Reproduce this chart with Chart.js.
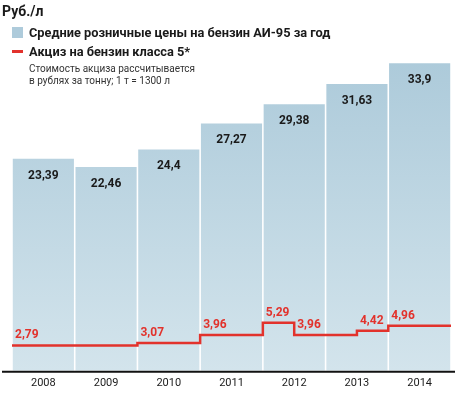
<!DOCTYPE html>
<html>
<head>
<meta charset="utf-8">
<script src="https://cdn.jsdelivr.net/npm/chart.js@4"></script>
<style>
  html, body { margin: 0; padding: 0; background: #fff; }
  #wrap { position: relative; width: 457px; height: 396px; font-family: Roboto, "Open Sans", sans-serif; color: #1a1a1a; }
  #wrap canvas { position: absolute; left: 0; top: 0; }
  .hd { position: absolute; white-space: nowrap; }
  #unit { left: 2px; top: 3px; font-weight: 700; font-size: 14px; }
  #leg1 { left: 12px; top: 25px; font-weight: 700; font-size: 12.8px; }
  #leg2 { left: 12px; top: 44px; font-weight: 700; font-size: 12.8px; }
  .sw1 { display: inline-block; width: 11px; height: 11px; background: #aecbdb; margin-right: 6px; vertical-align: -1px; }
  .sw2 { display: inline-block; width: 11px; height: 3px; background: #e2322c; margin-right: 6px; vertical-align: 3px; }
  #note { left: 29px; top: 63px; font-size: 10px; line-height: 12px; color: #333; }
</style>
</head>
<body>
<div id="wrap">
  <canvas id="chart" width="457" height="396"></canvas>
  <div class="hd" id="unit">Руб./л</div>
  <div class="hd" id="leg1"><span class="sw1"></span>Средние розничные цены на бензин АИ-95 за год</div>
  <div class="hd" id="leg2"><span class="sw2"></span>Акциз на бензин класса 5*</div>
  <div class="hd" id="note">Стоимость акциза рассчитывается<br>в рублях за тонну; 1 т = 1300 л</div>
</div>
<script>
// данные
const years = ['2008', '2009', '2010', '2011', '2012', '2013', '2014'];
const prices = [23.39, 22.46, 24.4, 27.27, 29.38, 31.63, 33.9];
const priceLabels = ['23,39', '22,46', '24,4', '27,27', '29,38', '31,63', '33,9'];
// акциз по полугодиям, 2008 H1 ... 2014 H2
const exciseHalfYears = [2.79, 2.79, 2.79, 2.79, 3.07, 3.07, 3.96, 3.96, 5.29, 3.96, 3.96, 4.42, 4.96, 4.96];

const red = '#e2322c';

// точки ступенчатой линии: начало каждого полугодия + конец периода
const excisePoints = exciseHalfYears.map((v, i) => ({ x: i, y: v }));
excisePoints.push({ x: exciseHalfYears.length, y: exciseHalfYears[exciseHalfYears.length - 1] });

function barFill(context) {
  const area = context.chart.chartArea;
  if (!area) return '#aecbdb';
  const g = context.chart.ctx.createLinearGradient(0, area.top, 0, area.bottom);
  g.addColorStop(0, '#a6c6d7');
  g.addColorStop(1, '#d3e4ec');
  return g;
}

// подписи значений + линия оси
const labelsPlugin = {
  id: 'labels',
  afterDatasetsDraw(chart) {
    const ctx = chart.ctx;
    ctx.save();
    // цены на столбиках
    const bars = chart.getDatasetMeta(0).data;
    ctx.font = 'bold 12px Roboto, sans-serif';
    ctx.fillStyle = '#1a1a1a';
    ctx.textAlign = 'center';
    ctx.textBaseline = 'middle';
    bars.forEach((b, i) => {
      ctx.fillText(priceLabels[i], b.x, b.y + 17);
    });
    // акциз — подпись при каждом изменении
    const pts = chart.getDatasetMeta(1).data;
    ctx.fillStyle = red;
    ctx.textAlign = 'left';
    exciseHalfYears.forEach((v, i) => {
      if (i === 0 || v !== exciseHalfYears[i - 1]) {
        const p = pts[i];
        ctx.fillText(v.toFixed(2).replace(/0$/, '').replace('.', ','), p.x + 3, p.y - 10);
      }
    });
    // ось X
    const y = chart.chartArea.bottom + 1;
    ctx.strokeStyle = '#111';
    ctx.lineWidth = 2;
    ctx.beginPath();
    ctx.moveTo(2, y);
    ctx.lineTo(455, y);
    ctx.stroke();
    ctx.restore();
  }
};

new Chart(document.getElementById('chart'), {
  type: 'bar',
  data: {
    labels: years,
    datasets: [{
      type: 'bar',
      data: prices,
      backgroundColor: barFill,
      grouped: false,
      categoryPercentage: 1,
      barPercentage: 0.975,
      order: 2
    }, {
      type: 'line',
      data: excisePoints,
      xAxisID: 'x2',
      borderColor: red,
      borderWidth: 2.5,
      stepped: 'before',
      pointRadius: 0,
      fill: false,
      order: 1
    }]
  },
  options: {
    responsive: false,
    animation: false,
    layout: { padding: { left: 12, right: 6, top: 8, bottom: 0 } },
    plugins: { legend: { display: false }, tooltip: { enabled: false } },
    scales: {
      x: {
        grid: { display: false, drawTicks: false },
        border: { display: false },
        ticks: { color: '#1a1a1a', font: { family: 'Roboto', size: 11 }, padding: 6 }
      },
      x2: {
        type: 'linear',
        display: false,
        offset: false,
        min: 0,
        max: exciseHalfYears.length
      },
      y: {
        display: false,
        min: 0,
        max: 40
      }
    }
  },
  plugins: [labelsPlugin]
});
</script>
</body>
</html>
